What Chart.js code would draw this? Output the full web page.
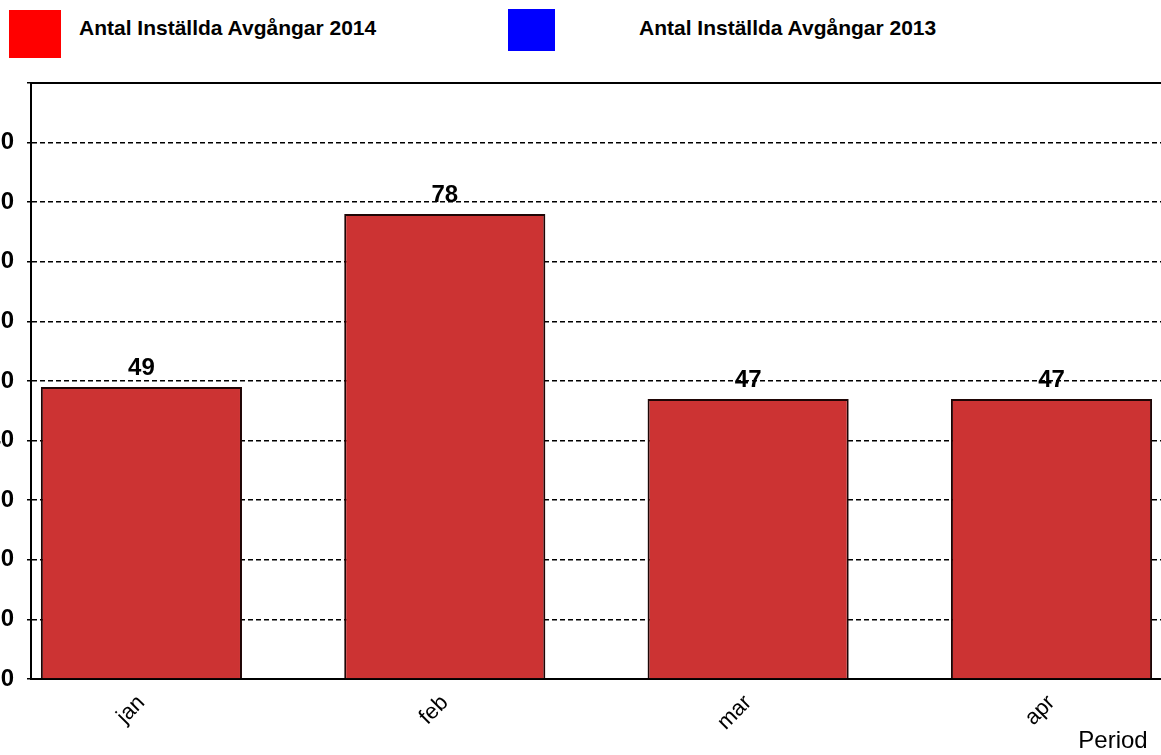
<!DOCTYPE html>
<html>
<head>
<meta charset="utf-8">
<script src="https://cdn.jsdelivr.net/npm/chart.js@4"></script>
<style>
  html, body { margin: 0; padding: 0; background: #fff; overflow: hidden; }
  body { width: 1161px; height: 755px; position: relative; font-family: "Liberation Sans", Arial, sans-serif; }
  #wrap { position: absolute; left: -40px; top: 0; width: 1201px; height: 755px; }
  .key { position: absolute; top: 0; }
  .key .box { position: absolute; }
  .key .txt { position: absolute; top: 16px; white-space: nowrap; font-weight: bold; font-size: 21px; line-height: 24px; color: #000; }
  .key0 .box { left: 9px; top: 10px; width: 52px; height: 48px; }
  .key0 .txt { left: 79px; }
  .key1 .box { left: 508px; top: 9px; width: 47px; height: 42px; }
  .key1 .txt { left: 639px; }
</style>
</head>
<body>
<div id="legend"></div>
<div id="wrap"><canvas id="chart"></canvas></div>
<script>

const months = ["jan", "feb", "mar", "apr"];
const values2014 = [49, 78, 47, 47];
const values2013 = [null, null, null, null];
const seriesNames = ["Antal Inställda Avgångar 2014", "Antal Inställda Avgångar 2013"];
const legendColors = ["#ff0000", "#0000ff"];
const yMax = 100;
const yStep = 10;

// x axis runs a bit past the first/last month, like the original plot
const xMin = -0.364;
const xMax = 3.361;

const FONT = '"Liberation Sans", Arial, sans-serif';
Chart.defaults.font.family = FONT;
Chart.defaults.color = "#000";


const htmlLegend = {
  id: "htmlLegend",
  afterUpdate(chart){
    const legend = document.getElementById("legend");
    let html = "";
    chart.data.datasets.forEach((ds, i) => {
      html += `
      <div class="key key${i}">
        <div class="box" style="background:${ds.legendColor}"></div>
        <div class="txt">${ds.label}</div>
      </div>`;
    });
    legend.innerHTML = html;
  }
};

const valueLabels = {
  id: "valueLabels",
  afterDatasetsDraw(chart){
    const ctx = chart.ctx;
    const meta = chart.getDatasetMeta(0);
    const data = chart.data.datasets[0].data;
    ctx.save();
    ctx.font = `bold 24px ${FONT}`;
    ctx.fillStyle = "#000";
    ctx.textAlign = "center";
    ctx.textBaseline = "alphabetic";
    meta.data.forEach((bar, i) => {
      if (data[i] == null) return;
      ctx.fillText(data[i], bar.x, bar.y - 12);
    });
    ctx.restore();
  }
};


new Chart(document.getElementById("chart"), {
  type: "bar",
  data: {
    labels: months.map((m, i) => i),
    datasets: [
      {
        label: seriesNames[0],
        data: values2014,
        backgroundColor: "#cc3333",
        borderColor: "#1e0505",
        borderWidth: 2,
        legendColor: legendColors[0]
      },
      {
        label: seriesNames[1],
        data: values2013,
        backgroundColor: "#0000ff",
        legendColor: legendColors[1]
      }
    ]
  },
  options: {
    responsive: true,
    maintainAspectRatio: false,
    animation: false,
    layout: { padding: { top: 83, right: 0, bottom: 0, left: 0 } },
    datasets: {
      bar: { grouped: false, categoryPercentage: 1, barPercentage: 0.663 }
    },
    plugins: {
      legend: { display: false },
      tooltip: { enabled: false }
    },
    scales: {
      x: {
        type: "linear",
        offset: false,
        min: xMin,
        max: xMax,
        ticks: {
          stepSize: 1,
          includeBounds: false,
          minRotation: 45,
          maxRotation: 45,
          padding: 11,
          font: { size: 22 },
          callback: (v) => months[v] ?? ""
        },
        grid: { display: false, drawTicks: false, offset: false },
        border: { display: true, color: "#000", width: 2 },
        title: {
          display: true,
          text: "Period  ",
          align: "end",
          font: { size: 24 },
          padding: { top: 0, bottom: -1 }
        },
        afterFit: (s) => { s.height = 76; }
      },
      x2: {
        type: "linear",
        position: "top",
        offset: false,
        ticks: { display: false },
        grid: { display: false, drawTicks: false },
        border: { display: true, color: "#000", width: 2 },
        afterFit: (s) => { s.height = 0; }
      },
      y: {
        min: 0,
        max: yMax,
        ticks: {
          stepSize: yStep,
          padding: 13,
          font: { size: 24, weight: "bold" },
          callback: (v) => v < yMax ? v : ""
        },
        grid: { color: "#000", lineWidth: 1.5, tickLength: 4, tickColor: "#000" },
        border: { display: true, color: "#000", width: 2, dash: [5, 3] },
        afterFit: (s) => { s.width = 71; }
      }
    }
  },
  plugins: [htmlLegend, valueLabels]
});

</script>
</body>
</html>
